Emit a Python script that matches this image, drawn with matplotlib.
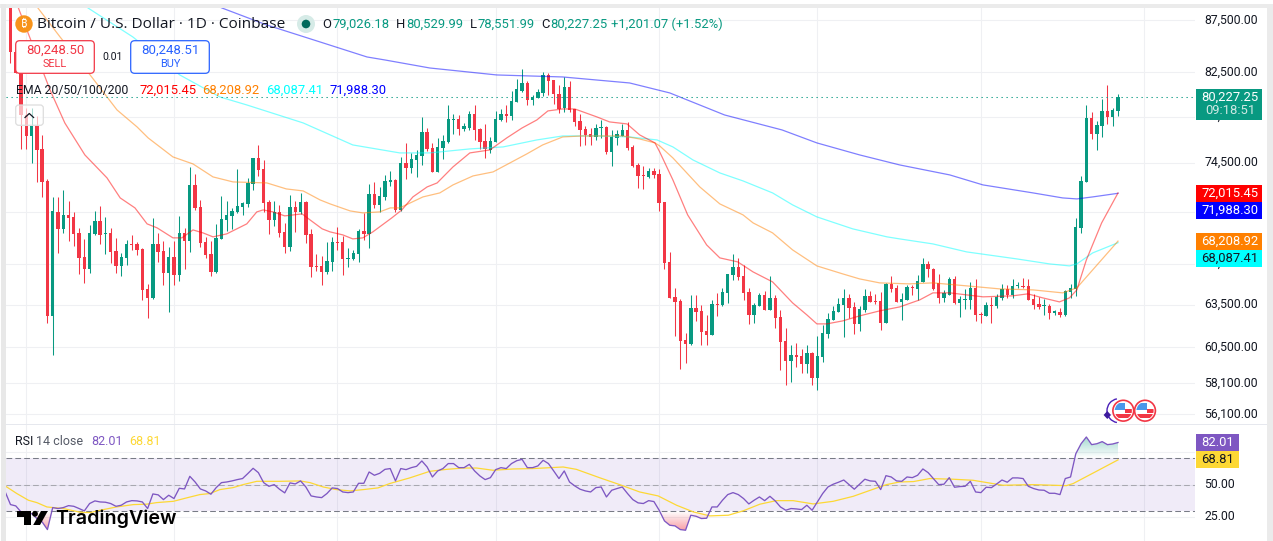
import numpy as np
import matplotlib
matplotlib.use("Agg")
import matplotlib.pyplot as plt
from matplotlib.patches import Rectangle, FancyBboxPatch, Circle, Polygon, Arc
from matplotlib.path import Path
from matplotlib.transforms import ScaledTranslation

plt.rcParams['font.family'] = ['Roboto', 'DejaVu Sans']

opens = [90000,84430,82455,78640,76800,77670,75685,73001,62691,70494,
69158,70257,70099,68845,67004,66103,68768,69782,68768,68845,
67460,66328,66930,67994,67994,67610,64630,63981,67994,67460,
65807,67004,65659,68845,68225,72673,70893,68148,67232,65881,
68380,69860,70178,70494,70893,71133,72755,74920,73995,71293,
69860,70494,68922,67763,70893,70494,71293,68768,66328,66328,
65881,66628,68148,68148,66854,66854,67232,68999,68768,71939,
71053,71696,72919,73083,70652,74498,74080,74750,75090,77150,
75770,73746,75770,76285,78199,78290,77410,77495,78730,77410,
76370,75598,76285,78199,78730,78555,79805,80800,81530,79983,
80165,80620,82270,81807,80525,79265,81165,79175,78110,77410,
76975,76715,77495,77585,75430,76630,76800,77322,75855,74330,
73497,73332,73829,73580,71293,66628,64053,63761,61017,60745,
63257,63046,61640,61364,63545,63473,64341,65659,66253,65585,
64413,62762,63401,64197,63117,63981,62620,60949,59589,59993,
59925,59388,60129,58459,59857,61433,62409,62975,63473,63981,
63329,62129,63117,64125,63761,63761,62199,64997,64705,63689,
63833,64778,64630,65143,66478,66103,65070,63981,64197,65363,
63617,63833,63833,64705,62833,62691,63473,63401,63981,64630,
64197,64851,64851,64851,63907,63545,63401,63401,62904,62975,
62762,64413,64630,69236,72919,78375,76975,77670,79000,78465,79026.18]
closes = [84430,82455,78640,76800,77670,75598,72919,62691,70573,69158,
70257,70020,68768,66930,66103,68845,69782,68691,68845,67384,
66328,67004,67994,67917,67536,64557,63981,67994,67384,65807,
67004,65659,68845,68225,72673,70813,68071,67156,65881,68460,
69940,70257,70573,70973,71213,72837,74920,73912,71213,69860,
70494,68845,67763,70893,70494,71293,68691,66253,66253,65881,
66703,68148,68071,66854,66930,67308,68999,68768,71939,71053,
71777,73001,73083,70652,74498,74080,74835,75175,77150,75685,
73746,75855,76370,78290,78290,77410,77670,78730,77322,76285,
75685,76370,78290,78730,78555,79895,80980,81530,79983,80255,
80710,82270,81715,80525,79175,81165,79086,78025,77322,76890,
76715,77495,77585,75430,76715,76975,77322,75770,74246,73414,
73414,73829,73497,71213,66553,63981,63689,60949,60745,63257,
62975,61571,61364,63545,63473,64413,65733,66253,65511,64341,
62762,63473,64197,63117,63981,62549,60881,59589,59993,59857,
59388,60129,58459,59925,61502,62480,63046,63545,63981,63257,
62129,63187,64125,63689,63689,62199,64997,64630,63689,63907,
64778,64705,65216,66478,66103,64630,63981,64341,65363,63617,
63907,63907,64705,62762,62762,63473,63401,64053,64630,64197,
64851,64924,64778,63833,63473,63329,63473,62904,63046,62762,
64485,64705,69314,73001,78375,76975,77760,79000,78465,79086,80227.25]
highs = [91000,84620,83100,79265,79265,78555,76890,73166,71696,71696,
72263,71373,70494,69236,68380,69470,70573,70973,70099,69236,
68460,67308,68302,68691,68148,67686,64997,70020,68845,68225,
67763,68225,70178,69236,74163,73580,71453,68537,68225,69548,
71777,71373,70813,73995,71293,73249,74920,76025,74750,71453,
71373,71053,69626,71858,71373,72020,71373,69158,67232,67080,
68148,68537,69314,68614,67686,67536,69158,70415,72755,72919,
72509,73497,73829,73166,75005,76200,75345,75598,78465,77495,
76200,76630,76890,79535,78730,78640,77935,79000,79535,77495,
77850,76715,79000,79175,79535,80800,81900,82830,81715,80435,
80980,82550,82455,81807,81350,82085,81715,79175,78730,77670,
77495,77850,78199,77670,77322,77322,77850,78025,76025,74498,
74246,74080,74080,73995,71293,67384,64705,63907,61502,64197,
64197,63473,62762,63833,64341,64705,65733,67232,66930,66403,
64705,63617,64341,64485,65585,64197,63117,61849,60677,60813,
60405,60677,60197,61295,62059,62904,63401,63981,64630,64269,
63689,63401,64630,64485,64269,64413,65070,65585,64924,64341,
64924,64924,65659,66930,66703,66178,65733,64557,65511,65585,
64125,64630,65143,65363,62975,63689,64053,64269,64997,64924,
65363,65143,65437,65363,64269,64053,63907,63545,63117,63257,
64557,64997,70020,73414,79535,78910,78110,80075,81350,79265,80529.99]
lows = [83390,82455,75685,75685,74498,72919,71696,62199,59993,67308,
68845,68225,67840,65733,65070,65807,68691,67994,67232,66553,
65807,65585,66403,67536,67156,63833,62549,63907,66628,64924,
62975,64924,65216,66103,67384,70652,67763,66930,65585,65807,
68380,68999,69158,70415,70257,70893,72263,73414,70494,68768,
69392,68537,67308,67460,68922,70336,68071,65511,65955,64924,
65733,65955,67536,65659,66253,66778,66628,68302,67686,70813,
70494,71453,72591,70494,70573,73166,73663,73332,74330,75515,
73746,73746,74835,76200,76975,76890,77235,77322,76455,75685,
74920,75345,76285,78110,78025,78199,79805,80710,79535,79535,
80165,80345,80435,79625,78820,78910,78910,77670,75940,76025,
76025,76455,76630,75260,74246,76025,76800,75598,74163,72427,
72345,73249,73249,70573,66103,63981,61295,59055,59455,60677,
62339,60677,60677,61364,62691,63401,63617,65289,65289,63833,
62129,62199,63401,63117,63117,61849,58987,58001,58196,59187,
58789,58789,58001,57672,59522,61157,62409,62975,61226,62549,
61433,61640,62975,63689,63545,61709,62199,64413,63689,62409,
63833,64197,63833,65143,65511,64557,63617,63689,64197,63545,
62620,63187,63187,62339,62199,62691,62199,63257,63833,63981,
63981,64705,64705,63833,63187,63187,62762,62480,62762,62620,
62691,63981,64125,68845,72919,76540,75598,76715,77850,77670,78551.99]

ema20_x = [0.9,1.5,7.5,10.3,14.1,18.3,20.8,23.6,25.9,27.8,30.8,32.5,34.6,36.5,38.4,41,44.8,46.7,47.9,49.8,52,55.3,56.8,59.1,60.6,63,64.9,66.8,68.7,72.3,74.2,76.3,79,80.9,83.9,87.1,90.9,94.1,97,99.8,101.9,104.7,107,111.2,113.6,116.9,119.3,122.2,123.1,125.6,128.4,132,134.5,137.9,140.8,144.5,148.3,151,152.9,154.8,157.8,161,164.8,168.6,172.4,174.9,178.1,184.4,190,192.9,195.7,198.9,200.8,202.2,204,206.9,210]
ema20_y = [89533,88725,80890,77935,75175,73249,71615,70813,69548,69236,68460,68460,69076,68845,68537,68768,69548,70494,70652,70494,70178,70336,69860,69158,68922,68691,68380,68460,68922,70020,70652,71696,72509,72837,74163,75345,75598,76630,77495,78199,79000,79175,79175,78465,78025,77850,76890,76200,75430,73083,70257,67917,66930,66628,65881,65143,63617,62762,62129,62129,62339,62691,63046,63329,63833,64341,64341,64053,64125,64269,63981,63689,63981,64557,66778,69626,72015.45]
ema50_x = [5.2,9.4,15.1,20.2,24,26.1,30.8,34.6,38.4,42.2,48.6,52.3,55.5,58.7,60.6,64.4,66.8,70,72,73.8,78.2,81.4,83.9,87.7,91.5,94.7,97.9,100.9,104.7,108.5,116.1,119.3,122.2,123.1,125.6,130.7,134.5,138.9,140.8,144.5,148.3,152.9,157.8,161,164.8,170.4,174.9,181.3,187.6,193.9,199.5,202.2,210]
ema50_y = [88725,85874,82270,79086,77585,76630,75005,74414,73332,72919,72837,72345,72182,71453,71133,70573,70415,70494,70813,70813,71696,72020,72673,73414,73746,74498,75260,76025,76715,76800,76800,76540,76200,75940,74920,72509,71133,70257,69626,68845,67536,66328,65733,65363,65070,64997,65070,64851,64630,64557,64341,64705,68208.92]
ema100_x = [13.2,14.7,23.2,32.1,39.7,44.8,55.5,64.9,73.8,79.5,87.1,93.4,99.8,104.7,111.2,117.4,122.6,125.6,129.4,134.5,138.9,144.5,148.3,152.9,159.7,166.2,168.6,174.9,181.3,190.8,197,200.8,202.2,205.2,210]
ema100_y = [89533,88725,85874,82270,80255,79535,77935,76025,75345,75345,75685,75855,76455,76800,76800,76715,76455,75855,74750,73663,73001,72020,71053,70099,69158,68537,68380,67994,67384,66854,66478,66328,66478,67308,68087.41]
ema200_x = [36.9,40.1,48.6,58.7,67.6,71,79.5,92.2,104.7,117.4,125,135.4,146.3,152.9,161,168.6,178.1,184.4,193.9,199.5,202.2,205.2,210]
ema200_y = [89533,88725,87040,85390,83957,83673,82920,82270,82085,81530,80620,78640,77322,76200,75175,74330,73497,72673,72020,71615,71534,71696,71988.30]

rsi = [44.4,34.8,33.8,29.2,26.7,28,24.2,21.6,15.8,32.5,31.8,
32.5,34,33.5,31.8,30,35.6,37.6,36.8,36.6,35.6,
33.5,34.3,36.8,37.8,37.6,36.8,31.8,42.9,42.2,38.6,
41.9,39.4,47.2,46.7,56.3,52,46.7,45.2,42.7,47.7,
51.5,52,52.8,53.8,54.6,58.4,62.4,59.1,51.5,48.7,
50,46.5,43.7,51.3,50.5,52.8,48.2,41.4,40.6,40.1,
43.2,47.5,47,44.4,43.9,44.4,51,51,59.6,57.1,
58.6,61.6,62.2,52.8,62.2,61.4,62.9,63.9,68,63.4,
55.8,60.4,62.2,66,66,62.9,62.9,65.4,60.4,56.6,
53.8,55.3,61.4,62.9,62.2,66,68.2,69.2,62.9,62.9,
64.2,68.5,66,60.4,54.6,60.4,52,49,46.5,45.2,
44.4,47.7,48.2,40.6,45.7,47,48.2,43.2,38.6,36.1,
35.6,37.8,37.1,30.5,22.4,19.1,18.6,15.8,15.3,26.7,
25.9,24.2,24.4,33,33,38.1,42.4,43.9,42.4,39.4,
35.3,38.1,40.6,37.8,41.1,37.6,33,30.5,31.8,31.5,
31,34.3,30.5,36.8,43.2,48.2,50.3,51.8,53.5,50,
46.5,50.3,54.1,52.8,52.5,46.2,56.8,55.8,52.8,52.5,
55.8,55.3,57.1,61.9,59.1,54.6,50,50.3,55.3,48,
48.5,48.7,52.5,44.4,43.9,48,47.7,50.5,53.5,51.8,
55.1,55.1,54.6,48.7,47,45.9,45.7,43.4,43.4,42.4,
54.6,55.8,73.5,81.1,86.2,80.4,81.1,82.7,80.4,80.9,82.01]
rsi_ma_x = [-0.9,1.2,3.4,5,6.9,10,13.2,15.1,17,20.1,23.3,25.8,27.7,30.9,33.4,35.9,37.8,39.7,42.2,44.1,46.7,51.1,54.9,56.8,59.3,61.8,64.4,66.9,69.7,71.9,75.7,79.5,82.7,85.8,88.4,91.5,95.3,99.1,104.8,107.3,111.8,115.5,119.3,122.8,126.3,129.5,132.6,136.1,138.9,142.1,145.2,148.4,152.2,156,159.8,163.6,166.1,168.6,171.2,174.3,178.7,182.5,188.2,193.9,200.2,201.5,205.9,210]
rsi_ma_y = [48.7,43.2,38.1,36.3,33,31.8,29,28.7,30.5,33,34.8,35.1,36.3,37.3,39.9,42.4,43.2,46.2,47.7,50,52.5,52.5,52.8,51.5,48.2,46.2,45.2,46.2,47.5,50.8,55.1,60.1,61.6,62.6,62.6,60.9,61.9,62.2,63.4,61.6,55.1,50,44.4,41.4,34.3,29.2,26.2,26.7,30,35.1,37.8,37.8,35.3,37.3,41.1,46.5,50,52,52.3,54.6,54.1,53.3,49.5,50,49.2,50.8,60.1,68.81]

price_ticks = [87500, 82500, 78500, 74500, 70500, 66500, 63500, 60500, 58100, 56100]
rsi_ticks = [75, 50, 25]
month_starts = [3, 31, 62, 92, 123, 153, 184, 215]
last_price = 80227.25

GREEN, RED = '#089981', '#F23645'
INK = '#131722'
GRID = '#eff0f3'
W, H = 1273, 541

fig = plt.figure(figsize=(W/100, H/100), dpi=100, facecolor='white')
def box(x0, y0, x1, y1):
    return [x0/W, 1-y1/H, (x1-x0)/W, (y1-y0)/H]
def fs(px):
    return px*0.72

XLIM = (-0.853, 224.6)
ax = fig.add_axes(box(6, 8, 1195, 424))
ax.set_yscale('log')
ax.set_xlim(*XLIM)
ax.set_ylim(55494, 88725)
idx = np.arange(len(closes))
o, c, h, l = map(np.array, (opens, closes, highs, lows))
col = np.where(c >= o, GREEN, RED)
ax.set_axisbelow(True)
ax.vlines(idx, l, h, colors=col, linewidth=0.75, zorder=2)
ax.bar(idx, np.abs(c-o), bottom=np.minimum(o, c), width=0.64, color=col, linewidth=0, zorder=2.1)
for xs, ys, colr in [(ema200_x, ema200_y, '#0000ff'), (ema100_x, ema100_y, '#00ffff'),
                     (ema50_x, ema50_y, '#ff8000'), (ema20_x, ema20_y, '#ff0000')]:
    ax.plot(xs, ys, color=colr, alpha=0.5, linewidth=0.9, zorder=3, solid_joinstyle='round')
ax.axhline(last_price, color=GREEN, linewidth=0.75, linestyle=(0, (1.2, 3.6)), zorder=4)
ax.yaxis.tick_right()
ax.set_yticks(price_ticks)
ax.set_yticklabels([f'{t:,.2f}' for t in price_ticks], fontsize=fs(12.3), color=INK)
ax.minorticks_off()
ax.set_xticks(month_starts)
ax.set_xticklabels([])
ax.tick_params(axis='both', length=0, which='both')
ax.tick_params(axis='y', pad=6.6)
ax.grid(True, color=GRID, linewidth=0.75)
for s in ax.spines.values():
    s.set_visible(False)

rx = fig.add_axes(box(6, 424, 1195, 541))
rx.set_xlim(*XLIM)
RLIM = (7.1, 96.1)
ri = np.arange(-1, len(closes))
rv = np.array(rsi)
rx.set_axisbelow(True)
rx.axhspan(30, 70, color='#7E57C2', alpha=0.115, linewidth=0, zorder=1)
for lev, cl in [(70, '#787b86'), (30, '#787b86'), (50, '#a8a8b0')]:
    rx.axhline(lev, color=cl, linewidth=0.75, linestyle=(0, (5.5, 3)), zorder=1.5)
def gradient(mask_lo, mask_hi, lo, hi, rgb, a_lo, a_hi):
    poly = rx.fill_between(ri, mask_lo, mask_hi, where=mask_hi > mask_lo, interpolate=True, alpha=0)
    pth = Path.make_compound_path(*poly.get_paths())
    g = np.zeros((64, 2, 4))
    g[..., :3] = matplotlib.colors.to_rgb(rgb)
    g[..., 3] = np.linspace(a_lo, a_hi, 64)[:, None]
    im = rx.imshow(g, origin='lower', extent=(ri[0], ri[-1], lo, hi), aspect='auto', zorder=1.6)
    im.set_clip_path(pth, transform=rx.transData)
gradient(np.full_like(rv, 70.0), np.maximum(rv, 70), 70, 86.5, '#089981', 0.0, 0.38)
gradient(np.minimum(rv, 30), np.full_like(rv, 30.0), 15, 30, '#F23645', 0.5, 0.0)
rx.plot(rsi_ma_x, rsi_ma_y, color='#FDD835', linewidth=0.9, zorder=3)
rx.plot(ri, rv, color='#7E57C2', linewidth=0.95, zorder=3.1)
rx.set_xlim(*XLIM)
rx.set_ylim(*RLIM)
rx.yaxis.tick_right()
rx.set_yticks(rsi_ticks)
rx.set_yticklabels([f'{t:.2f}' for t in rsi_ticks], fontsize=fs(12.3), color=INK)
rx.set_xticks(month_starts)
rx.set_xticklabels([])
rx.tick_params(axis='both', length=0)
rx.tick_params(axis='y', pad=6.6)
rx.grid(True, color=GRID, linewidth=0.75)
for s in rx.spines.values():
    s.set_visible(False)

# tick labels sit about 2 px above their gridlines in the reference
lift = ScaledTranslation(0, 2/100, fig.dpi_scale_trans)
for a in (ax, rx):
    for lb in a.get_yticklabels():
        lb.set_transform(lb.get_transform() + lift)

# Interface elements, drawn in image pixels over the panes
ui = fig.add_axes([0, 0, 1, 1], zorder=10)
ui.set_xlim(0, W)
ui.set_ylim(H, 0)
ui.axis('off')
ui.patch.set_alpha(0)

def rect(x0, y0, x1, y1, color, **kw):
    ui.add_patch(Rectangle((x0, y0), x1-x0, y1-y0, facecolor=color, edgecolor='none', **kw))
def txt(x, y, s, color=INK, size=13, ha='left', **kw):
    ui.text(x, y, s, color=color, fontsize=fs(size), ha=ha, va='center', **kw)

rect(0, 4, W, 8, '#ebebeb')
rect(1, 4, 6, H, '#e8e8e8')
rect(1267, 4, W, H, '#ebebeb')
rect(6, 423.5, 1267, 425, '#e6e8ee')

# header
ui.add_patch(Circle((24, 24), 8.7, color='#F7931A', lw=0))
txt(24, 24, '₿', color='white', size=11, ha='center',
    family=['Noto Sans', 'Open Sans', 'Inter', 'Liberation Sans', 'DejaVu Sans'], fontweight='bold')
txt(37.3, 24.5, 'Bitcoin / U.S. Dollar · 1D · Coinbase', size=15.4, family=['Open Sans'])
ui.add_patch(Circle((306, 24), 9, color='#d6ebe7', lw=0))
ui.add_patch(Circle((306, 24), 4.3, color='#00695c', lw=0))
for xl, lt, xv, val in [(322, 'O', 332.5, '79,026.18'), (396, 'H', 406, '80,529.99'),
                        (469.5, 'L', 477.5, '78,551.99'), (541, 'C', 550, '80,227.25')]:
    txt(xl, 24.5, lt, size=13)
    txt(xv, 24.5, val, color=GREEN, size=13)
txt(611, 24.5, '+1,201.07 (+1.52%)', color=GREEN, size=13)

# trade buttons
for x0, colr, price, lab in [(15.7, RED, '80,248.50', 'SELL'), (130.7, '#2962FF', '80,248.51', 'BUY')]:
    ui.add_patch(FancyBboxPatch((x0+4, 44.7), 70.6, 24.6, boxstyle='round,pad=4,rounding_size=4',
                                facecolor='white', edgecolor=colr, linewidth=0.9))
    txt(x0+39.3, 50, price, color=colr, size=13.3, ha='center')
    txt(x0+39.3, 64, lab, color=colr, size=11, ha='center')
txt(112.3, 56.7, '0.01', size=10.5, ha='center')

# EMA legend
txt(15.7, 90.7, 'EMA 20/50/100/200', size=12.3)
for xv, val, colr in [(139, '72,015.45', '#ff0000'), (202, '68,208.92', '#ff8000'),
                      (265.7, '68,087.41', '#00ffff'), (329, '71,988.30', '#0000ff')]:
    txt(xv, 90.7, val, color=colr, size=13)

# collapse button
ui.add_patch(FancyBboxPatch((18.7, 108), 21.6, 14.3, boxstyle='round,pad=3,rounding_size=3',
                            facecolor=(1, 1, 1, 0.65), edgecolor='#dddddd', linewidth=0.9))
ui.plot([25, 29.3, 33.6], [117.5, 113.5, 117.5], color=INK, linewidth=0.9)

# last value labels
rect(1196, 89, 1262, 119.7, GREEN)
txt(1230, 97, '80,227.25', color='white', size=13, ha='center')
txt(1230, 111, '09:18:51', color='#cfe9e4', size=13, ha='center')
for y0, y1, colr, tc, val in [(185, 201.7, '#ff0000', 'white', '72,015.45'),
                              (202, 218.7, '#0000ff', 'white', '71,988.30'),
                              (233, 249.7, '#ff8000', 'white', '68,208.92'),
                              (250, 266.7, '#00ffff', INK, '68,087.41')]:
    rect(1196, y0, 1262, y1, colr)
    txt(1230, (y0+y1)/2, val, color=tc, size=13, ha='center')
rect(1196, 434, 1239, 450.7, '#7E57C2')
rect(1196, 451, 1239, 467.7, '#FDD835')
txt(1218, 442.5, '82.01', color='white', size=13, ha='center')
txt(1218, 459.5, '68.81', color=INK, size=13, ha='center')

# RSI legend
txt(15, 441.5, 'RSI', size=12.5)
txt(36, 441.5, '14 close', color='#555a66', size=12.5)
txt(91, 441.5, '82.01', color='#7E57C2', size=12.5)
txt(129, 441.5, '68.81', color='#FDD835', size=12.5)

# event markers
ui.add_patch(Arc((1119, 410.7), 24, 24, theta1=100, theta2=260, color='#4a1fb8', lw=1.0))
ui.add_patch(Polygon([(1107.3, 411), (1111, 415), (1107.3, 419), (1103.6, 415)], color='#3d1a9e', lw=0))
for cx in (1123.3, 1145):
    circ = Circle((cx, 410.7), 10.4, facecolor='white', edgecolor='#F23645', linewidth=1.2)
    ui.add_patch(circ)
    clip = Circle((cx, 410.7), 8.6, transform=ui.transData)
    for r in [Rectangle((cx-9, 403), 10.5, 6.5, color='#4a97ea', lw=0),
              Rectangle((cx+1.5, 408.5), 8, 4, color='#F23645', lw=0),
              Rectangle((cx-9, 414), 18, 4.2, color='#F23645', lw=0)]:
        ui.add_patch(r)
        r.set_clip_path(clip)

# logo
ui.add_patch(Polygon([(17, 511), (31, 511), (31, 525), (23.5, 525), (23.5, 517), (17, 517)], color='black', lw=0))
ui.add_patch(Circle((35, 513.8), 2.9, color='black', lw=0))
ui.add_patch(Polygon([(41, 511), (47.8, 511), (40, 525), (33.2, 525)], color='black', lw=0))
txt(55, 519, 'TradingView', color='black', size=19.6, family=['Inter'], fontweight='semibold')

fig.savefig('out.png', dpi=100)
